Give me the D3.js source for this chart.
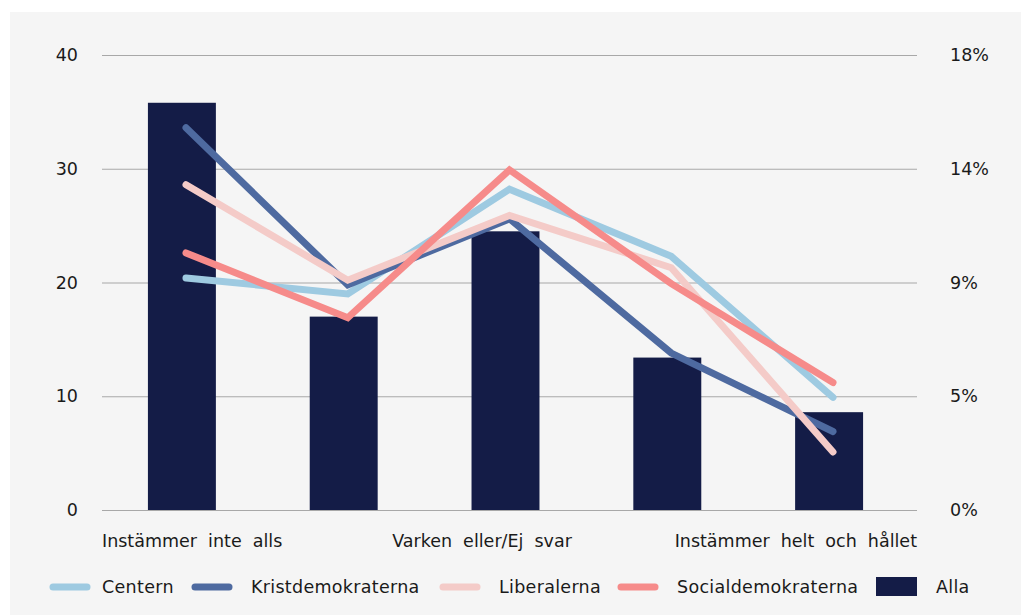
<!DOCTYPE html>
<html><head><meta charset="utf-8">
<script src="https://cdn.jsdelivr.net/npm/d3@7"></script>
<style>
html,body{margin:0;padding:0;background:#fff;}
svg{display:block;}
text{font-family:"DejaVu Sans",sans-serif;fill:#1a1a1a;}
</style></head>
<body>
<script>
const categories = ["Instämmer inte alls","2","Varken eller/Ej svar","4","Instämmer helt och hållet"];
const alla = [35.8, 17.0, 24.5, 13.4, 8.6];
const centern = [20.4, 19.0, 28.2, 22.3, 9.9];
const kristdemokraterna = [33.6, 19.8, 25.6, 13.8, 6.9];
const liberalerna = [28.6, 20.2, 25.9, 21.3, 5.1];
const socialdemokraterna = [22.6, 16.9, 29.9, 19.9, 11.2];
const leftTicks = [0, 10, 20, 30, 40];
const rightTickLabels = ["0%", "5%", "9%", "14%", "18%"];
const xLabels = ["Instämmer inte alls", "Varken eller/Ej svar", "Instämmer helt och hållet"];

const series = [
  {name:"Centern", values:centern, color:"#9ecae1"},
  {name:"Kristdemokraterna", values:kristdemokraterna, color:"#4e6aa0"},
  {name:"Liberalerna", values:liberalerna, color:"#f4cbc8"},
  {name:"Socialdemokraterna", values:socialdemokraterna, color:"#f68b8a"}
];

const W = 1021, H = 615, FS = 17.5;
const svg = d3.select("body").append("svg").attr("width", W).attr("height", H);
svg.append("rect").attr("x",10).attr("y",12).attr("width",W-10).attr("height",H-12).attr("fill","#f5f5f5");

const plotL = 102, plotR = 917, plotT = 55, plotB = 510;
const y = d3.scaleLinear().domain([0,40]).range([plotB, plotT]);
const xb = d3.scaleBand().domain(categories).range([101, 910]).paddingInner(0.58).paddingOuter(0.29);
const xp = d3.scalePoint().domain(categories).range([186, 833]);

// grid
const grid = svg.append("g").attr("class","grid")
  .attr("transform",`translate(${plotL},0)`)
  .call(d3.axisLeft(y).tickValues(leftTicks).tickSize(-(plotR-plotL)).tickFormat(""));
grid.select(".domain").remove();
grid.selectAll("line").attr("stroke","#a8a8a8").attr("stroke-width",1.2);

// left axis labels
const la = svg.append("g").attr("transform","translate(78,0)")
  .call(d3.axisLeft(y).tickValues(leftTicks).tickSize(0).tickPadding(0));
la.select(".domain").remove();
la.selectAll("text").attr("font-size",FS).attr("font-family","DejaVu Sans").attr("fill","#1a1a1a");

// right axis labels
const ra = svg.append("g").attr("transform","translate(950,0)")
  .call(d3.axisRight(y).tickValues(leftTicks).tickSize(0).tickPadding(0)
    .tickFormat((d,i)=>rightTickLabels[i]));
ra.select(".domain").remove();
ra.selectAll("text").attr("font-size",FS).attr("font-family","DejaVu Sans").attr("fill","#1a1a1a");

// bars
svg.append("g").selectAll("rect").data(alla).join("rect")
  .attr("x",(d,i)=>xb(categories[i]))
  .attr("width",xb.bandwidth())
  .attr("y",d=>y(d))
  .attr("height",d=>y(0)-y(d))
  .attr("fill","#141c47");

// lines
const line = d3.line().x((d,i)=>xp(categories[i])).y(d=>y(d));
svg.append("g").selectAll("path").data(series).join("path")
  .attr("d",s=>line(s.values))
  .attr("fill","none")
  .attr("stroke",s=>s.color)
  .attr("stroke-width",7)
  .attr("stroke-linecap","round")
  .attr("stroke-linejoin","miter");

// x labels
const xl = svg.append("g").attr("font-size",FS).attr("word-spacing","5.5px");
xl.append("text").attr("x",plotL).attr("y",547).attr("text-anchor","start").text(xLabels[0]);
xl.append("text").attr("x",482).attr("y",547).attr("text-anchor","middle").text(xLabels[1]);
xl.append("text").attr("x",plotR).attr("y",547).attr("text-anchor","end").text(xLabels[2]);

// legend
const legendItems = series.map(s=>({name:s.name,color:s.color,type:"line"}))
  .concat([{name:"Alla",color:"#141c47",type:"rect"}]);
const legendX = [50, 192, 440, 618, 876];
const lg = svg.append("g");
legendItems.forEach((it,i)=>{
  const g = lg.append("g").attr("transform",`translate(${legendX[i]},587)`);
  if(it.type==="line"){
    g.append("line").attr("x1",3).attr("x2",37).attr("y1",0).attr("y2",0)
      .attr("stroke",it.color).attr("stroke-width",7).attr("stroke-linecap","round");
  } else {
    g.append("rect").attr("x",0).attr("y",-10).attr("width",41).attr("height",19).attr("fill",it.color);
  }
  g.append("text").attr("x", it.type==="rect"?60:(i===0?52:59)).attr("y",6).attr("font-size",FS)
    .attr("letter-spacing","0.3px").text(it.name);
});
</script>
</body></html>
